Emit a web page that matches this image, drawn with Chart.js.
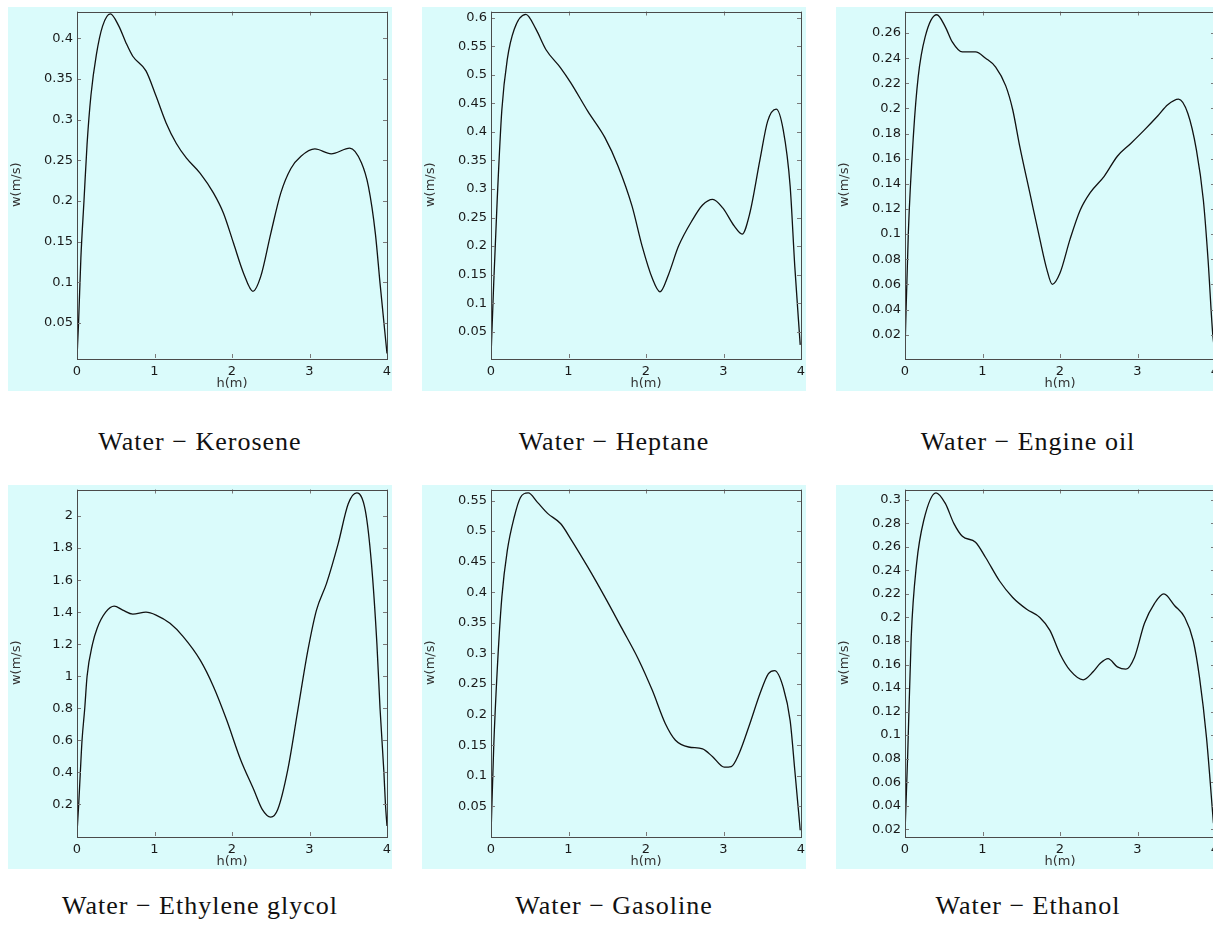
<!DOCTYPE html>
<html>
<head>
<meta charset="utf-8">
<title>w(m/s) versus h(m)</title>
<script src="https://cdn.jsdelivr.net/npm/chart.js@4.4.1/dist/chart.umd.min.js"></script>
<style>
    body { margin: 0; width: 1213px; height: 930px; overflow: hidden; background: #fff; position: relative; }
    .panel { position: absolute; width: 384px; height: 384px; background: #dafbfb; }
    .caption { position: absolute; width: 384px; text-align: center; font: 26px 'Liberation Serif', serif; letter-spacing: 1px; color: #111; line-height: 30px; }
</style>
</head>
<body>
<div class="panel" style="left:8px;top:7px"><canvas id="c1" width="384" height="384"></canvas></div>
<div class="panel" style="left:422px;top:7px"><canvas id="c2" width="384" height="384"></canvas></div>
<div class="panel" style="left:836px;top:7px"><canvas id="c3" width="384" height="384"></canvas></div>
<div class="panel" style="left:8px;top:485px"><canvas id="c4" width="384" height="384"></canvas></div>
<div class="panel" style="left:422px;top:485px"><canvas id="c5" width="384" height="384"></canvas></div>
<div class="panel" style="left:836px;top:485px"><canvas id="c6" width="384" height="384"></canvas></div>

<div class="caption" style="left:8px;top:427px">Water − Kerosene</div>
<div class="caption" style="left:422px;top:427px">Water − Heptane</div>
<div class="caption" style="left:836px;top:427px">Water − Engine oil</div>
<div class="caption" style="left:8px;top:891px">Water − Ethylene glycol</div>
<div class="caption" style="left:422px;top:891px">Water − Gasoline</div>
<div class="caption" style="left:836px;top:891px">Water − Ethanol</div>

<script>
// h(m) positions and w(m/s) values
const hTicks = [0, 1, 2, 3, 4];

const keroseneH = [0, 0.02, 0.05, 0.09, 0.13, 0.18, 0.25, 0.33, 0.43, 0.54, 0.63, 0.72, 0.89, 1.02, 1.15, 1.28, 1.41, 1.59, 1.76, 1.89, 2.02, 2.15, 2.27, 2.37, 2.5, 2.63, 2.76, 2.89, 3.07, 3.28, 3.52, 3.67, 3.76, 3.85, 3.91, 4];
const keroseneW = [0.008, 0.05, 0.13, 0.2, 0.27, 0.33, 0.38, 0.415, 0.43, 0.415, 0.395, 0.378, 0.36, 0.329, 0.296, 0.271, 0.253, 0.234, 0.21, 0.185, 0.148, 0.111, 0.089, 0.107, 0.16, 0.21, 0.24, 0.255, 0.264, 0.258, 0.265, 0.247, 0.218, 0.16, 0.099, 0.0125];
const keroseneTicks = [0.05, 0.1, 0.15, 0.2, 0.25, 0.3, 0.35, 0.4];

const heptaneH = [0, 0.035, 0.08, 0.14, 0.21, 0.3, 0.45, 0.58, 0.71, 0.9, 1.03, 1.25, 1.47, 1.64, 1.82, 1.95, 2.08, 2.18, 2.29, 2.42, 2.6, 2.73, 2.86, 2.99, 3.14, 3.24, 3.34, 3.47, 3.57, 3.68, 3.77, 3.86, 3.92, 3.99];
const heptaneW = [0.006, 0.135, 0.281, 0.439, 0.527, 0.58, 0.606, 0.58, 0.544, 0.512, 0.486, 0.436, 0.39, 0.34, 0.27, 0.2, 0.144, 0.12, 0.15, 0.2, 0.246, 0.272, 0.282, 0.267, 0.235, 0.221, 0.258, 0.351, 0.419, 0.44, 0.404, 0.305, 0.164, 0.027];
const heptaneTicks = [0.05, 0.1, 0.15, 0.2, 0.25, 0.3, 0.35, 0.4, 0.45, 0.5, 0.55, 0.6];

const engineOilH = [0, 0.043, 0.11, 0.17, 0.26, 0.41, 0.52, 0.61, 0.74, 0.91, 1.04, 1.17, 1.3, 1.39, 1.48, 1.61, 1.74, 1.83, 1.9, 2.0, 2.13, 2.26, 2.39, 2.57, 2.74, 2.91, 3.09, 3.26, 3.39, 3.53, 3.65, 3.76, 3.85, 3.91, 3.97, 4];
const engineOilW = [0.008, 0.101, 0.18, 0.225, 0.257, 0.2746, 0.265, 0.253, 0.245, 0.245, 0.24, 0.233, 0.218, 0.199, 0.17, 0.133, 0.096, 0.072, 0.06, 0.069, 0.096, 0.119, 0.133, 0.146, 0.162, 0.172, 0.183, 0.194, 0.203, 0.2075, 0.196, 0.167, 0.127, 0.08, 0.021, 0.005];
const engineOilTicks = [0.02, 0.04, 0.06, 0.08, 0.1, 0.12, 0.14, 0.16, 0.18, 0.2, 0.22, 0.24, 0.26];

const glycolH = [0, 0.022, 0.043, 0.065, 0.1, 0.13, 0.2, 0.26, 0.37, 0.48, 0.59, 0.72, 0.89, 1.02, 1.2, 1.37, 1.59, 1.76, 1.93, 2.11, 2.28, 2.39, 2.5, 2.59, 2.72, 2.85, 2.98, 3.09, 3.22, 3.37, 3.5, 3.61, 3.72, 3.8, 3.87, 3.91, 3.96, 3.98, 4];
const glycolW = [0.023, 0.2, 0.4, 0.6, 0.8, 1.0, 1.2, 1.3, 1.4, 1.438, 1.413, 1.388, 1.4, 1.382, 1.33, 1.247, 1.1, 0.936, 0.728, 0.48, 0.292, 0.168, 0.12, 0.168, 0.417, 0.79, 1.164, 1.413, 1.58, 1.828, 2.077, 2.145, 2.035, 1.7, 1.2, 0.8, 0.4, 0.2, 0.064];
const glycolTicks = [0.2, 0.4, 0.6, 0.8, 1, 1.2, 1.4, 1.6, 1.8, 2];

const gasolineH = [0, 0.035, 0.08, 0.14, 0.21, 0.3, 0.38, 0.48, 0.6, 0.73, 0.9, 1.03, 1.25, 1.47, 1.68, 1.9, 2.08, 2.25, 2.38, 2.55, 2.73, 2.86, 3.01, 3.1, 3.2, 3.34, 3.47, 3.58, 3.66, 3.77, 3.86, 3.92, 3.99];
const gasolineW = [0.003, 0.147, 0.272, 0.392, 0.468, 0.523, 0.555, 0.5625, 0.547, 0.529, 0.512, 0.487, 0.441, 0.392, 0.343, 0.291, 0.24, 0.185, 0.158, 0.147, 0.144, 0.131, 0.114, 0.115, 0.136, 0.185, 0.234, 0.267, 0.272, 0.245, 0.19, 0.109, 0.011];
const gasolineTicks = [0.05, 0.1, 0.15, 0.2, 0.25, 0.3, 0.35, 0.4, 0.45, 0.5, 0.55];

const ethanolH = [0, 0.035, 0.08, 0.15, 0.24, 0.4, 0.52, 0.63, 0.74, 0.91, 1.04, 1.22, 1.39, 1.57, 1.74, 1.87, 2.0, 2.13, 2.3, 2.43, 2.52, 2.62, 2.74, 2.85, 2.96, 3.09, 3.22, 3.34, 3.48, 3.61, 3.72, 3.8, 3.89, 3.98];
const ethanolW = [0.017, 0.084, 0.183, 0.246, 0.282, 0.306, 0.297, 0.28, 0.269, 0.264, 0.251, 0.231, 0.217, 0.207, 0.2, 0.189, 0.169, 0.155, 0.147, 0.154, 0.161, 0.165, 0.158, 0.156, 0.166, 0.195, 0.212, 0.22, 0.21, 0.2, 0.18, 0.149, 0.098, 0.025];
const ethanolTicks = [0.02, 0.04, 0.06, 0.08, 0.1, 0.12, 0.14, 0.16, 0.18, 0.2, 0.22, 0.24, 0.26, 0.28, 0.3];

// axis limits [min, max] per panel
const keroseneRange = [0.007, 0.433];
const heptaneRange = [0.004, 0.611];
const engineOilRange = [0.0014, 0.2772];
const glycolRange = [0.002, 2.166];
const gasolineRange = [0.0015, 0.568];
const ethanolRange = [0.0142, 0.3088];

const labelFont = { family: 'DejaVu Sans', size: 13 };
const labelColor = '#1a1a1a';

// box around the plot with inward tick marks on all four sides
const framePlugin = {
    id: 'frame',
    afterDraw(chart) {
        const { ctx, chartArea: a, scales: { x, y } } = chart;
        ctx.save();
        ctx.lineWidth = 1;
        ctx.strokeStyle = '#7a7a7a';
        ctx.beginPath();
        x.ticks.forEach(t => {
            const px = Math.round(x.getPixelForValue(t.value)) + 0.5;
            ctx.moveTo(px, a.bottom); ctx.lineTo(px, a.bottom - 4);
            ctx.moveTo(px, a.top); ctx.lineTo(px, a.top + 4);
        });
        y.ticks.forEach(t => {
            const py = Math.round(y.getPixelForValue(t.value)) + 0.5;
            ctx.moveTo(a.left, py); ctx.lineTo(a.left + 4, py);
            ctx.moveTo(a.right, py); ctx.lineTo(a.right - 4, py);
        });
        ctx.stroke();
        ctx.strokeStyle = '#4a4a4a';
        ctx.strokeRect(Math.round(a.left) + 0.5, Math.round(a.top) + 0.5, Math.round(a.width), Math.round(a.height));
        ctx.restore();
    }
};

function makeChart(id, hs, ws, range, yTicks) {
    new Chart(document.getElementById(id), {
        type: 'line',
        data: {
            datasets: [{
                data: hs.map((h, i) => ({ x: h, y: ws[i] })),
                borderColor: '#111',
                borderWidth: 1.3,
                pointRadius: 0,
                cubicInterpolationMode: 'monotone',
                fill: false
            }]
        },
        options: {
            responsive: false,
            animation: false,
            events: [],
            layout: { padding: { top: 4.5, right: 5, left: 0, bottom: 0 } },
            plugins: { legend: { display: false }, tooltip: { enabled: false } },
            scales: {
                x: {
                    type: 'linear',
                    min: 0,
                    max: 4,
                    grid: { display: false, drawTicks: false },
                    border: { display: false },
                    afterBuildTicks: s => { s.ticks = hTicks.map(v => ({ value: v })); },
                    afterFit: s => { s.height = 33; s.paddingLeft = 0; s.paddingRight = 0; },
                    ticks: { font: labelFont, color: labelColor, padding: 6, maxRotation: 0, autoSkip: false },
                    title: { display: true, text: 'h(m)', font: labelFont, color: '#333', padding: { top: 0, bottom: 0 } }
                },
                y: {
                    type: 'linear',
                    min: range[0],
                    max: range[1],
                    grid: { display: false, drawTicks: false },
                    border: { display: false },
                    afterBuildTicks: s => { s.ticks = yTicks.map(v => ({ value: v })); },
                    afterFit: s => { s.width = 69; s.paddingTop = 0; s.paddingBottom = 0; },
                    ticks: {
                        font: labelFont, color: labelColor, padding: 4, autoSkip: false,
                        callback: v => String(+v.toFixed(3))
                    },
                    title: { display: true, text: 'w(m/s)', font: labelFont, color: '#333', padding: { top: 1, bottom: 0 } }
                }
            }
        },
        plugins: [framePlugin]
    });
}

document.addEventListener('DOMContentLoaded', function () {
    makeChart('c1', keroseneH, keroseneW, keroseneRange, keroseneTicks);
    makeChart('c2', heptaneH, heptaneW, heptaneRange, heptaneTicks);
    makeChart('c3', engineOilH, engineOilW, engineOilRange, engineOilTicks);
    makeChart('c4', glycolH, glycolW, glycolRange, glycolTicks);
    makeChart('c5', gasolineH, gasolineW, gasolineRange, gasolineTicks);
    makeChart('c6', ethanolH, ethanolW, ethanolRange, ethanolTicks);
});
</script>
</body>
</html>
